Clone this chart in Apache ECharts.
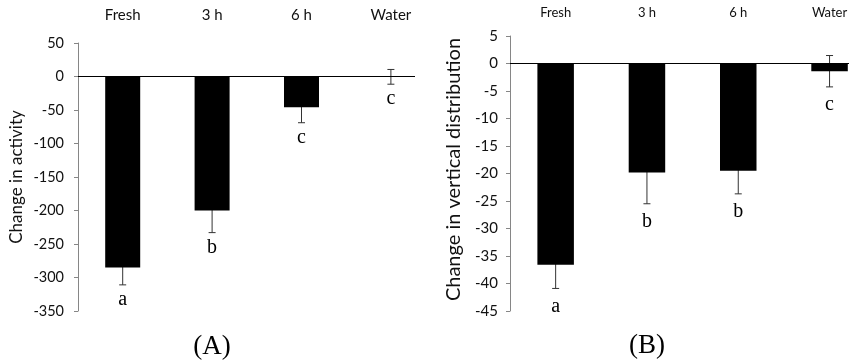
<!DOCTYPE html>
<html>
<head>
<meta charset="utf-8">
<script src="https://cdn.jsdelivr.net/npm/echarts@6/dist/echarts.min.js"></script>
<style>html,body{margin:0;padding:0;background:#fff;}#c{width:852px;height:362px;}</style>
</head>
<body>
<div id="c"></div>
<script>
const categories = ['Fresh', '3 h', '6 h', 'Water'];
const activity = [-285, -200, -46, -0.5];
const activityErr = [26, 33, 23, 11];
const activityLetters = ['a', 'b', 'c', 'c'];
const vertical = [-36.6, -19.8, -19.5, -1.4];
const verticalErr = [4.3, 5.7, 4.2, 2.85];
const verticalLetters = ['a', 'b', 'b', 'c'];
const axisA = { min: -350, max: 50, interval: 50 };
const axisB = { min: -45, max: 5, interval: 5 };

const SANS = 'Lato';
const SERIF = '"Liberation Serif", "Times New Roman", serif';

function pts(vals) { return vals.map((v, i) => [i + 0.5, v]); }

function errRender(errs, letters, gap) {
  return function (params, api) {
    const i = params.dataIndex;
    const x = api.value(0), y = api.value(1), e = errs[i];
    const t = api.coord([x, y + e]);
    const b = api.coord([x, y - e]);
    const st = { stroke: '#333', lineWidth: 1 };
    return {
      type: 'group',
      children: [
        { type: 'line', shape: { x1: t[0], y1: t[1], x2: b[0], y2: b[1] }, style: st },
        { type: 'line', shape: { x1: t[0] - 3.5, y1: t[1], x2: t[0] + 3.5, y2: t[1] }, style: st },
        { type: 'line', shape: { x1: b[0] - 3.5, y1: b[1], x2: b[0] + 3.5, y2: b[1] }, style: st },
        { type: 'text', style: { text: letters[i], x: b[0], y: b[1] + gap, align: 'center', verticalAlign: 'middle',
          font: '20px ' + SERIF, fill: '#000' } }
      ]
    };
  };
}

function catFmt(v) {
  const f = v - Math.floor(v);
  return Math.abs(f - 0.5) < 1e-6 ? categories[Math.floor(v)] : '';
}

const chart = echarts.init(document.getElementById('c'));
chart.setOption({
  animation: false,
  title: [
    { text: '(A)', left: 207, top: 328, textAlign: 'center',
      textStyle: { fontFamily: SERIF, fontSize: 27, fontWeight: 'normal', color: '#000' } },
    { text: '(B)', left: 642, top: 327, textAlign: 'center',
      textStyle: { fontFamily: SERIF, fontSize: 27, fontWeight: 'normal', color: '#000' } }
  ],
  grid: [
    { left: 78, top: 43, width: 337, height: 268 },
    { left: 510, top: 36, width: 339, height: 275 }
  ],
  xAxis: [
    { gridIndex: 0, type: 'value', position: 'top', min: 0, max: 337 / 89.4, interval: 0.5,
      axisLine: { show: false, onZero: false }, axisTick: { show: false }, splitLine: { show: false },
      axisLabel: { formatter: catFmt, margin: 20, fontFamily: SANS, fontSize: 15, color: '#111', showMaxLabel: false } },
    { gridIndex: 1, type: 'value', position: 'top', min: 0, max: 339 / 91.3, interval: 0.5,
      axisLine: { show: false, onZero: false }, axisTick: { show: false }, splitLine: { show: false },
      axisLabel: { formatter: catFmt, margin: 17, fontFamily: SANS, fontSize: 13, color: '#111', showMaxLabel: false } }
  ],
  yAxis: [
    { gridIndex: 0, type: 'value', min: axisA.min, max: axisA.max, interval: axisA.interval,
      name: 'Change in activity', nameLocation: 'middle', nameGap: 53,
      nameTextStyle: { fontFamily: SANS, fontSize: 17, color: '#111' },
      axisLine: { show: true, lineStyle: { color: '#868686', width: 1 } },
      axisTick: { show: true, length: 4, lineStyle: { color: '#868686' } },
      splitLine: { show: false },
      axisLabel: { margin: 14, fontFamily: SANS, fontSize: 14.5, color: '#111' } },
    { gridIndex: 1, type: 'value', min: axisB.min, max: axisB.max, interval: axisB.interval,
      name: 'Change in vertical distribution', nameLocation: 'middle', nameGap: 46,
      nameTextStyle: { fontFamily: SANS, fontSize: 20, color: '#111', padding: [0, 0, 0, 8] },
      axisLine: { show: true, lineStyle: { color: '#868686', width: 1 } },
      axisTick: { show: true, length: 4, lineStyle: { color: '#868686' } },
      splitLine: { show: false },
      axisLabel: { margin: 12, fontFamily: SANS, fontSize: 15, color: '#111' } }
  ],
  series: [
    { type: 'custom', xAxisIndex: 0, yAxisIndex: 0, z: 1, data: pts(activity),
      renderItem: errRender(activityErr, activityLetters, 15) },
    { type: 'bar', xAxisIndex: 0, yAxisIndex: 0, z: 2, barWidth: 35, data: pts(activity),
      itemStyle: { color: '#000' },
      markLine: { silent: true, symbol: 'none', label: { show: false }, data: [{ yAxis: 0 }],
        lineStyle: { color: '#000', width: 1, type: 'solid' } } },
    { type: 'custom', xAxisIndex: 1, yAxisIndex: 1, z: 1, data: pts(vertical),
      renderItem: errRender(verticalErr, verticalLetters, 18) },
    { type: 'bar', xAxisIndex: 1, yAxisIndex: 1, z: 2, barWidth: 36.5, data: pts(vertical),
      itemStyle: { color: '#000' },
      markLine: { silent: true, symbol: 'none', label: { show: false }, data: [{ yAxis: 0 }],
        lineStyle: { color: '#000', width: 1, type: 'solid' } } }
  ]
});
</script>
</body>
</html>
